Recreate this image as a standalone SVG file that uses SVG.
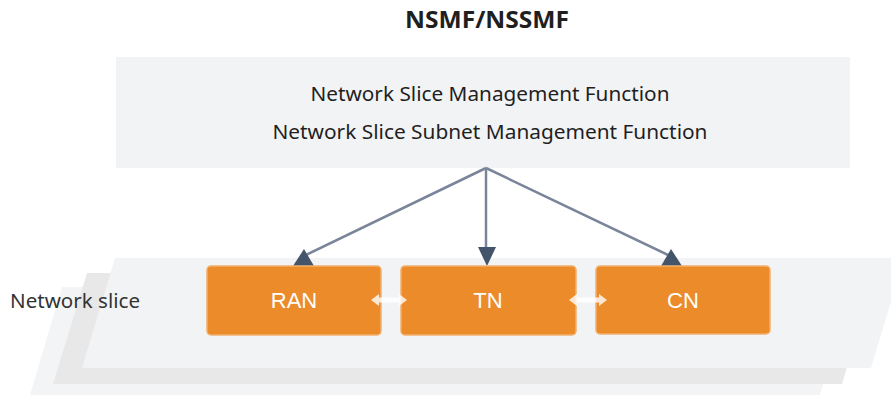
<svg xmlns="http://www.w3.org/2000/svg" width="891" height="395" viewBox="0 0 891 395">
<defs>
<style>
.t{font-family:"Noto Sans","Open Sans","Liberation Sans",sans-serif;fill:#1f1f1f}
.box{fill:#eb8b2a;stroke:#f2b06c;stroke-width:1.5}
.lbl{font-family:"Liberation Sans",Arial,sans-serif;font-size:22px;fill:#ffffff;text-anchor:middle}
.conn{stroke:#7a8599;stroke-width:2.5;fill:none}
.head{fill:#44546a}
.dbl{fill:#ffffff;opacity:0.8}
</style>
</defs>
<rect width="891" height="395" fill="#ffffff"/>
<g id="title">
<text class="t" x="487" y="28" font-size="23" font-weight="bold" text-anchor="middle" textLength="164" lengthAdjust="spacingAndGlyphs">NSMF/NSSMF</text>
</g>
<g id="mgmt">
<rect x="116" y="57" width="734" height="111" fill="#f2f3f5"/>
<text class="t" x="490" y="101" font-size="20" text-anchor="middle" textLength="359" lengthAdjust="spacingAndGlyphs">Network Slice Management Function</text>
<text class="t" x="490" y="139" font-size="20" text-anchor="middle" textLength="435" lengthAdjust="spacingAndGlyphs">Network Slice Subnet Management Function</text>
</g>
<g id="slice">
<polygon points="62,287 852,287 820,395 30,395" fill="#f3f4f6"/>
<polygon points="87,273 875,273 842,384 53,384" fill="#e8e8e8"/>
<polygon points="115,258 904,258 871,368 82,368" fill="#f2f3f5"/>
<text class="t" x="10" y="308" font-size="20" textLength="130" lengthAdjust="spacingAndGlyphs" style="fill:#333333">Network slice</text>
</g>
<g id="connectors">
<line class="conn" x1="486" y1="168" x2="306" y2="255"/>
<line class="conn" x1="486" y1="168" x2="486" y2="250"/>
<line class="conn" x1="486" y1="168" x2="668" y2="255"/>
<polygon class="head" points="304,249 314,266 293,266"/>
<polygon class="head" points="478,247 496,247 487,266"/>
<polygon class="head" points="671,249 682,266 661,266"/>
</g>
<g id="RAN">
<rect class="box" x="207" y="266" width="174" height="69" rx="4"/>
<text class="lbl" x="294" y="308">RAN</text>
</g>
<g id="TN">
<rect class="box" x="401" y="266" width="175" height="69" rx="4"/>
<text class="lbl" x="488" y="308">TN</text>
</g>
<g id="CN">
<rect class="box" x="596" y="266" width="174" height="68" rx="4"/>
<text class="lbl" x="683" y="308">CN</text>
</g>
<g id="links">
<path class="dbl" d="M371,300 L379,294 L379,297.5 L399,297.5 L399,294 L407,300 L399,306 L399,302.5 L379,302.5 L379,306 Z"/>
<path class="dbl" d="M569,300 L577,294 L577,297.5 L599,297.5 L599,294 L607,300 L599,306 L599,302.5 L577,302.5 L577,306 Z"/>
</g>
</svg>
